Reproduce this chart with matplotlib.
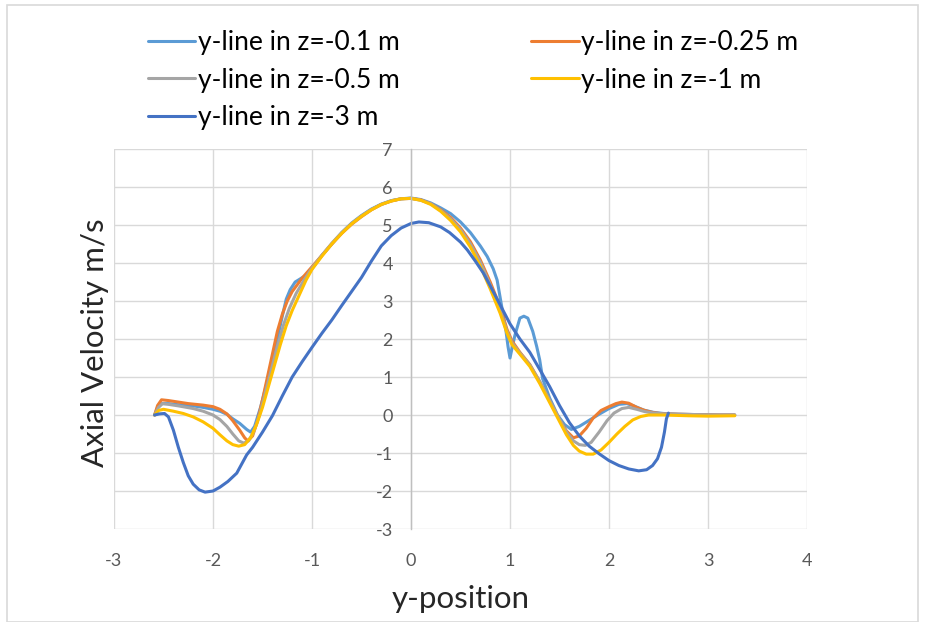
import matplotlib
matplotlib.use("Agg")
import matplotlib.pyplot as plt
from matplotlib.patches import Rectangle

plt.rcParams['font.family'] = ['Lato', 'DejaVu Sans']
plt.rcParams['axes.unicode_minus'] = False

# ---------------- data ----------------
x_z01 = [-2.59, -2.56, -2.52, -2.45, -2.35, -2.2, -2.1, -2.0, -1.93, -1.86, -1.8, -1.73, -1.66, -1.62,
         -1.58, -1.52, -1.46, -1.4, -1.35, -1.3, -1.26, -1.22, -1.17, -1.12, -1.06, -1.0, -0.9, -0.8,
         -0.7, -0.6, -0.5, -0.4, -0.3, -0.2, -0.1, 0.0, 0.1, 0.2, 0.3, 0.4, 0.5, 0.6, 0.7, 0.77, 0.83,
         0.87, 0.9, 0.93, 0.96, 0.98, 1.0, 1.02, 1.05, 1.1, 1.14, 1.18, 1.23, 1.27, 1.3, 1.33, 1.4,
         1.48, 1.55, 1.62, 1.7, 1.8, 1.9, 2.0, 2.1, 2.18, 2.25, 2.35, 2.45, 2.55, 2.7, 2.9, 3.1, 3.27]
y_z01 = [0.0, 0.2, 0.3, 0.3, 0.27, 0.24, 0.2, 0.15, 0.1, 0.02, -0.1, -0.22, -0.38, -0.45,
         -0.3, 0.2, 0.8, 1.4, 2.0, 2.6, 3.05, 3.3, 3.5, 3.58, 3.68, 3.85, 4.2, 4.5,
         4.8, 5.05, 5.25, 5.42, 5.55, 5.64, 5.69, 5.71, 5.67, 5.58, 5.45, 5.3, 5.08, 4.8, 4.45, 4.17, 3.85,
         3.55, 3.1, 2.65, 2.2, 1.8, 1.5, 1.75, 2.1, 2.55, 2.6, 2.55, 2.2, 1.8, 1.45, 0.95, 0.45,
         0.0, -0.25, -0.38, -0.3, -0.14, 0.02, 0.17, 0.28, 0.3, 0.24, 0.13, 0.07, 0.04, 0.02, 0.01, 0.0, 0.0]

x_z025 = [-2.59, -2.56, -2.52, -2.45, -2.35, -2.25, -2.1, -2.0, -1.93, -1.86, -1.8, -1.73, -1.68, -1.65,
          -1.6, -1.55, -1.5, -1.45, -1.4, -1.35, -1.3, -1.25, -1.2, -1.1, -1.0, -0.9, -0.8, -0.7, -0.6,
          -0.5, -0.4, -0.3, -0.2, -0.1, 0.0, 0.1, 0.2, 0.3, 0.4, 0.5, 0.6, 0.7, 0.8, 0.9, 0.97, 1.02,
          1.1, 1.2, 1.3, 1.4, 1.5, 1.57, 1.64, 1.7, 1.77, 1.84, 1.92, 2.0, 2.07, 2.13, 2.2, 2.28, 2.36,
          2.45, 2.55, 2.7, 2.9, 3.1, 3.27]
y_z025 = [0.0, 0.25, 0.4, 0.38, 0.34, 0.3, 0.26, 0.22, 0.15, 0.03, -0.15, -0.4, -0.6, -0.68,
          -0.55, -0.15, 0.4, 1.0, 1.6, 2.2, 2.65, 3.0, 3.25, 3.6, 3.9, 4.2, 4.5, 4.78, 5.02,
          5.22, 5.4, 5.54, 5.63, 5.69, 5.7, 5.66, 5.56, 5.4, 5.2, 4.92, 4.56, 4.08, 3.5, 2.85, 2.25, 1.95,
          1.65, 1.33, 0.88, 0.38, -0.12, -0.42, -0.6, -0.55, -0.35, -0.08, 0.12, 0.22, 0.3, 0.34, 0.31, 0.2, 0.12,
          0.06, 0.03, 0.02, 0.01, 0.0, 0.0]

x_z05 = [-2.59, -2.55, -2.51, -2.45, -2.35, -2.2, -2.1, -2.0, -1.93, -1.86, -1.8, -1.74, -1.69, -1.64,
         -1.59, -1.53, -1.47, -1.41, -1.35, -1.29, -1.23, -1.16, -1.08, -1.0, -0.9, -0.8, -0.7, -0.6,
         -0.5, -0.4, -0.3, -0.2, -0.1, 0.0, 0.1, 0.2, 0.3, 0.4, 0.5, 0.6, 0.7, 0.8, 0.9, 0.97, 1.02,
         1.1, 1.2, 1.3, 1.4, 1.5, 1.57, 1.64, 1.7, 1.76, 1.82, 1.9, 1.98, 2.05, 2.13, 2.2, 2.28, 2.36,
         2.45, 2.55, 2.7, 2.9, 3.1, 3.27]
y_z05 = [0.0, 0.2, 0.3, 0.28, 0.24, 0.17, 0.1, 0.0, -0.12, -0.3, -0.5, -0.68, -0.74, -0.68,
         -0.45, 0.0, 0.6, 1.2, 1.8, 2.35, 2.8, 3.2, 3.55, 3.87, 4.2, 4.52, 4.8, 5.04,
         5.24, 5.41, 5.54, 5.64, 5.69, 5.7, 5.65, 5.56, 5.38, 5.16, 4.88, 4.5, 4.02, 3.42, 2.76, 2.2, 1.9,
         1.63, 1.32, 0.88, 0.38, -0.12, -0.45, -0.68, -0.78, -0.8, -0.72, -0.45, -0.15, 0.05, 0.17, 0.2, 0.15, 0.09,
         0.05, 0.03, 0.02, 0.01, 0.0, 0.0]

x_z1 = [-2.59, -2.55, -2.5, -2.4, -2.3, -2.2, -2.1, -2.0, -1.93, -1.86, -1.8, -1.74, -1.68, -1.62,
        -1.56, -1.5, -1.44, -1.38, -1.32, -1.26, -1.2, -1.13, -1.06, -1.0, -0.9, -0.8, -0.7, -0.6,
        -0.5, -0.4, -0.3, -0.2, -0.1, 0.0, 0.1, 0.2, 0.3, 0.4, 0.5, 0.6, 0.7, 0.8, 0.9, 0.97, 1.02,
        1.1, 1.2, 1.3, 1.4, 1.5, 1.57, 1.64, 1.7, 1.77, 1.84, 1.92, 2.0, 2.08, 2.16, 2.24, 2.32, 2.4,
        2.55, 2.8, 3.0, 3.27]
y_z1 = [0.0, 0.12, 0.15, 0.1, 0.04, -0.05, -0.18, -0.35, -0.52, -0.68, -0.78, -0.82, -0.78, -0.6,
        -0.25, 0.2, 0.75, 1.3, 1.85, 2.35, 2.75, 3.15, 3.55, 3.83, 4.18, 4.5, 4.78, 5.03,
        5.23, 5.4, 5.54, 5.63, 5.69, 5.7, 5.65, 5.54, 5.36, 5.12, 4.82, 4.42, 3.92, 3.32, 2.68, 2.15, 1.85,
        1.6, 1.28, 0.83, 0.33, -0.17, -0.52, -0.8, -0.95, -1.03, -1.03, -0.92, -0.72, -0.5, -0.3, -0.13, -0.04, 0.0,
        0.0, -0.02, -0.03, -0.02]

x_z3 = [-2.59, -2.54, -2.49, -2.45, -2.4, -2.35, -2.3, -2.25, -2.2, -2.14, -2.08, -2.0, -1.93, -1.85,
        -1.76, -1.66, -1.6, -1.5, -1.4, -1.3, -1.2, -1.1, -1.0, -0.9, -0.8, -0.7, -0.6, -0.5, -0.4,
        -0.3, -0.2, -0.1, 0.0, 0.08, 0.18, 0.3, 0.39, 0.5, 0.57, 0.65, 0.73, 0.8, 0.9, 1.0, 1.1, 1.2,
        1.3, 1.4, 1.5, 1.6, 1.7, 1.8, 1.9, 2.0, 2.1, 2.2, 2.3, 2.38, 2.44, 2.49, 2.53, 2.56, 2.58, 2.6]
y_z3 = [0.0, 0.03, 0.04, -0.05, -0.4, -0.85, -1.25, -1.6, -1.82, -1.97, -2.03, -2.0, -1.9, -1.75,
        -1.53, -1.05, -0.85, -0.45, -0.02, 0.5, 1.0, 1.4, 1.78, 2.15, 2.5, 2.88, 3.25, 3.62, 4.05,
        4.45, 4.72, 4.92, 5.04, 5.08, 5.06, 4.95, 4.8, 4.55, 4.34, 4.05, 3.74, 3.4, 2.9, 2.4, 2.0, 1.65,
        1.2, 0.75, 0.25, -0.2, -0.55, -0.82, -1.02, -1.2, -1.33, -1.42, -1.47, -1.44, -1.33, -1.15, -0.85, -0.45, -0.1, 0.05]

series = [
    ("y-line in z=-0.1 m", x_z01, y_z01, "#5B9BD5"),
    ("y-line in z=-0.25 m", x_z025, y_z025, "#ED7D31"),
    ("y-line in z=-0.5 m", x_z05, y_z05, "#A5A5A5"),
    ("y-line in z=-1 m", x_z1, y_z1, "#FFC000"),
    ("y-line in z=-3 m", x_z3, y_z3, "#4472C4"),
]

x_ticks = [-3, -2, -1, 0, 1, 2, 3, 4]
y_ticks = [-3, -2, -1, 0, 1, 2, 3, 4, 5, 6, 7]

# ---------------- figure ----------------
W, H = 929, 622
fig = plt.figure(figsize=(W / 100, H / 100), dpi=100)
fig.patches.append(Rectangle((7 / W, 0), (918 - 7) / W, 1 - 5 / H - 0.0005, transform=fig.transFigure,
                             fill=False, edgecolor="#D9D9D9", linewidth=1.2))

ax = fig.add_axes([114 / W, 1 - 529 / H, (807 - 114) / W, (529 - 149) / H])
ax.set_xlim(-3, 4)
ax.set_ylim(-3, 7)
ax.set_xticks(x_ticks)
ax.set_yticks(y_ticks)
ax.grid(True, color="#D9D9D9", linewidth=1.0)
ax.set_axisbelow(True)

for s in ["top", "right", "bottom"]:
    ax.spines[s].set_visible(False)
ax.spines["left"].set_position(("data", 0))
ax.spines["left"].set_color("#BFBFBF")
ax.spines["left"].set_linewidth(1.0)
ax.tick_params(axis="both", length=0, labelsize=13, labelcolor="#595959")
ax.tick_params(axis="y", pad=13)
ax.tick_params(axis="x", pad=17)

lines = []
for label, xs, ys, c in series:
    ln, = ax.plot(xs, ys, color=c, linewidth=2.2, label=label, solid_capstyle="round",
                  solid_joinstyle="round")
    lines.append(ln)

ax.set_xlabel("y-position", fontsize=22.5, color="#262626", labelpad=12)
fig.text(95 / W, 1 - 343 / H, "Axial Velocity m/s", rotation=90, fontsize=22.5, color="#262626",
         ha="center", va="center")

# row-wise legend order (matplotlib fills legend columns first)
order = [0, 2, 4, 1, 3]
fig.legend(handles=[lines[i] for i in order], loc="upper left", bbox_to_anchor=(148 / W, 1 - 30 / H),
           ncol=2, frameon=False, fontsize=19, handlelength=1.8, handletextpad=0.08, columnspacing=5.0,
           labelspacing=0.48, borderpad=0, borderaxespad=0)

fig.savefig("out.png", dpi=100)
